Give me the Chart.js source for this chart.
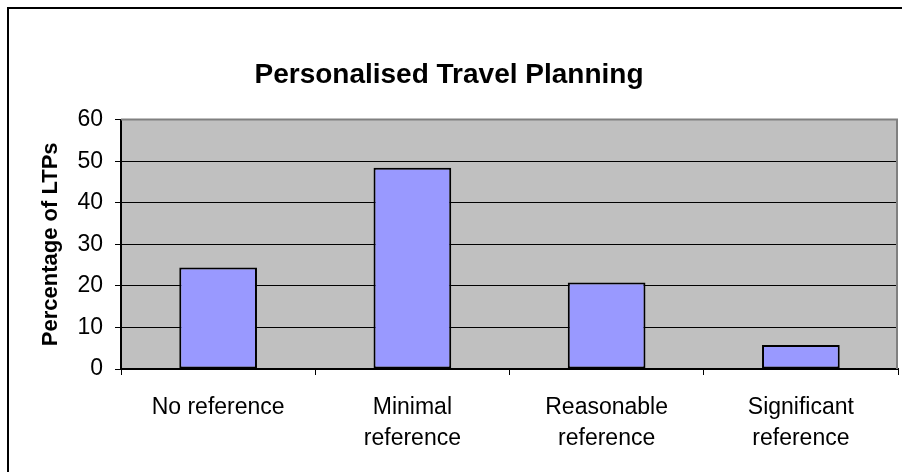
<!DOCTYPE html>
<html>
<head>
<meta charset="utf-8">
<title>Personalised Travel Planning</title>
<script src="https://cdn.jsdelivr.net/npm/chart.js@4.4.1/dist/chart.umd.min.js"></script>
<style>
  html, body { margin: 0; padding: 0; background: #fff; }
  #wrap { width: 902px; height: 472px; }
</style>
</head>
<body>
<div id="wrap"><canvas id="ltpChart" width="902" height="472"></canvas></div>
<script>
// categories (multi-line labels as arrays)
const categories = [
  'No reference',
  ['Minimal', 'reference'],
  ['Reasonable', 'reference'],
  ['Significant', 'reference']
];
// percentage of LTPs per category
const percentages = [24.4, 48.4, 20.8, 5.8];
// y axis range
const yMin = 0;
const yMax = 60;
const yStep = 10;

const FONT = "'Liberation Sans', Arial, sans-serif";

// white page + the chart frame (only its top/left edges fall inside the canvas)
const frame = {
  id: 'frame',
  beforeDraw(chart) {
    const ctx = chart.ctx;
    ctx.save();
    ctx.fillStyle = '#fff';
    ctx.fillRect(0, 0, chart.width, chart.height);
    ctx.strokeStyle = '#000';
    ctx.lineWidth = 2;
    ctx.strokeRect(8, 8, chart.width + 20, chart.height + 20);
    const a = chart.chartArea;
    ctx.fillStyle = '#c0c0c0';
    ctx.fillRect(a.left, a.top, a.right - a.left, a.bottom - a.top);
    ctx.restore();
  },
  beforeDatasetsDraw(chart) {
    // grey plot-area border on top and right
    const ctx = chart.ctx;
    const a = chart.chartArea;
    ctx.save();
    ctx.strokeStyle = '#808080';
    ctx.lineWidth = 2;
    ctx.beginPath();
    ctx.moveTo(a.left, a.top);
    ctx.lineTo(a.right - 1, a.top);
    ctx.lineTo(a.right - 1, a.bottom);
    ctx.stroke();
    ctx.restore();
  }
};

new Chart(document.getElementById('ltpChart'), {
  type: 'bar',
  data: {
    labels: categories,
    datasets: [{
      data: percentages,
      backgroundColor: '#9999ff',
      borderColor: '#000',
      borderWidth: 2,
      borderSkipped: false,
      barPercentage: 0.4,
      categoryPercentage: 1.0
    }]
  },
  options: {
    responsive: false,
    animation: false,
    devicePixelRatio: 1,
    layout: { padding: { top: 0, right: 4, bottom: 0, left: 0 } },
    plugins: {
      legend: { display: false },
      tooltip: { enabled: false },
      title: {
        display: true,
        text: 'Personalised Travel Planning',
        color: '#000',
        font: { family: FONT, size: 28, weight: 'bold', lineHeight: 1.2 },
        padding: { top: 58, bottom: 28 }
      }
    },
    scales: {
      x: {
        afterFit(scale) { scale.height = 103; },
        grid: {
          offset: true,
          drawOnChartArea: false,
          drawTicks: true,
          tickLength: 6,
          color: '#000'
        },
        border: { display: true, color: '#000', width: 2 },
        ticks: {
          color: '#000',
          maxRotation: 0,
          autoSkip: false,
          padding: 17,
          font: { family: FONT, size: 23, lineHeight: 1.35 }
        }
      },
      y: {
        min: yMin,
        max: yMax,
        afterFit(scale) { scale.width = 121; },
        grid: {
          color: '#000',
          lineWidth: 1,
          drawTicks: true,
          tickLength: 6
        },
        border: { display: true, color: '#000', width: 2 },
        ticks: {
          stepSize: yStep,
          color: '#000',
          padding: 12,
          font: { family: FONT, size: 23 }
        },
        title: {
          display: true,
          text: 'Percentage of LTPs',
          color: '#000',
          font: { family: FONT, size: 22, weight: 'bold', lineHeight: 1.2 },
          padding: { top: 38, bottom: 0 }
        }
      }
    }
  },
  plugins: [frame]
});
</script>
</body>
</html>
